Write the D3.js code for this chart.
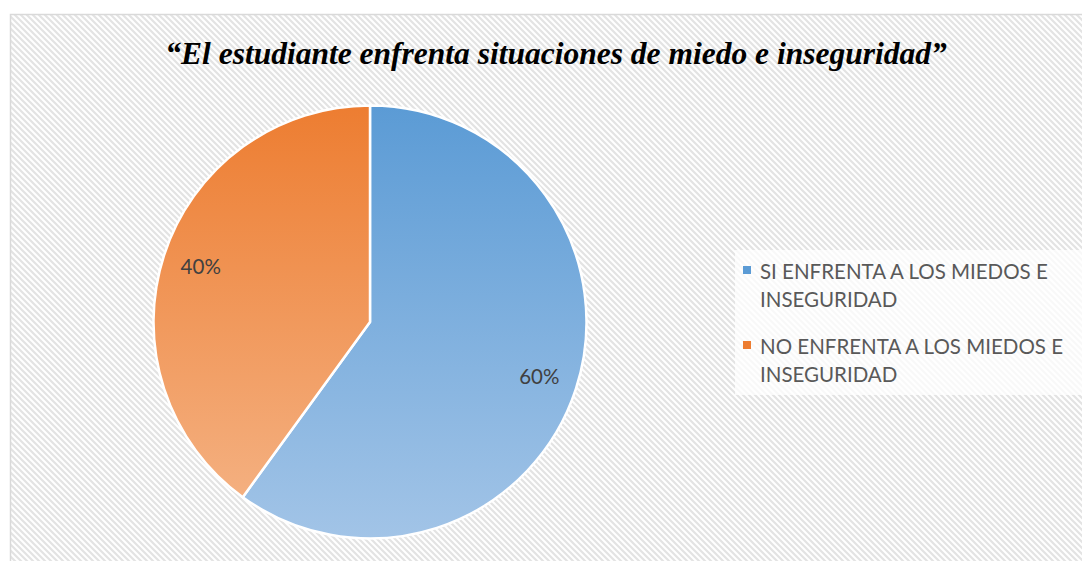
<!DOCTYPE html>
<html>
<head>
<meta charset="utf-8">
<script src="https://cdn.jsdelivr.net/npm/d3@7"></script>
<style>
  html, body { margin: 0; padding: 0; background: #ffffff; }
  svg { display: block; }
</style>
</head>
<body>
<svg id="chart" width="1082" height="561"></svg>
<script>
const title = "“El estudiante enfrenta situaciones de miedo e inseguridad”";
const categories = ["SI ENFRENTA A LOS MIEDOS E INSEGURIDAD", "NO ENFRENTA A LOS MIEDOS E INSEGURIDAD"];
const legendLines = [["SI ENFRENTA A LOS MIEDOS E", "INSEGURIDAD"], ["NO ENFRENTA A LOS MIEDOS E", "INSEGURIDAD"]];
const values = [60, 40];
const labels = ["60%", "40%"];
const colorsTop = ["#5b9bd5", "#ed7d31"];
const colorsBottom = ["#a2c4e7", "#f5b588"];

const svg = d3.select("#chart");
const W = 1082, H = 561;
const defs = svg.append("defs");

// hatch pattern
const pat = defs.append("pattern")
  .attr("id", "hatch").attr("patternUnits", "userSpaceOnUse")
  .attr("width", 6).attr("height", 6);
pat.append("rect").attr("width", 6).attr("height", 6).attr("fill", "#ffffff");
pat.append("path")
  .attr("d", "M-1,-1 L7,7 M-4,2 L2,8 M4,-2 L8,2")
  .attr("stroke", "#e3e3e3").attr("stroke-width", 2.2);

// frame
svg.append("rect").attr("x", 10.5).attr("y", 14.5).attr("width", W).attr("height", H)
  .attr("fill", "url(#hatch)").attr("stroke", "#d9d9d9").attr("stroke-width", 1.5);

// title
svg.append("text").attr("x", 556).attr("y", 64).attr("text-anchor", "middle")
  .attr("font-family", "'Liberation Serif', 'Times New Roman', serif")
  .attr("font-style", "italic").attr("font-weight", "bold")
  .attr("font-size", 31.5).attr("fill", "#000").text(title);

// pie
const cx = 370, cy = 322, R = 216.5;
values.forEach((v, i) => {
  const g = defs.append("linearGradient").attr("id", "grad" + i)
    .attr("gradientUnits", "userSpaceOnUse")
    .attr("x1", 0).attr("y1", -R).attr("x2", 0).attr("y2", R);
  g.append("stop").attr("offset", "0%").attr("stop-color", colorsTop[i]);
  g.append("stop").attr("offset", "100%").attr("stop-color", colorsBottom[i]);
});

const pie = d3.pie().sort(null).value(d => d);
const arcs = pie(values);
const arc = d3.arc().innerRadius(0).outerRadius(R);
const labelArc = d3.arc().innerRadius(178).outerRadius(178);

const pg = svg.append("g").attr("transform", `translate(${cx},${cy})`);
pg.selectAll("path").data(arcs).enter().append("path")
  .attr("d", arc)
  .attr("fill", (d, i) => `url(#grad${i})`)
  .attr("stroke", "#ffffff").attr("stroke-width", 2.5).attr("stroke-linejoin", "round");

pg.selectAll("text").data(arcs).enter().append("text")
  .attr("transform", d => { const c = labelArc.centroid(d); return `translate(${c[0]},${c[1] + 7})`; })
  .attr("text-anchor", "middle")
  .attr("font-family", "Lato, 'Open Sans', sans-serif")
  .attr("font-size", 20.5).attr("fill", "#404040")
  .text((d, i) => labels[i]);

// legend
svg.append("rect").attr("x", 735).attr("y", 250).attr("width", 347).attr("height", 145)
  .attr("fill", "#ffffff").attr("opacity", 0.75);
const lg = svg.append("g");
legendLines.forEach((lines, i) => {
  const y0 = 266 + i * 75;
  lg.append("rect").attr("x", 743).attr("y", y0).attr("width", 8).attr("height", 8)
    .attr("fill", colorsTop[i]);
  lines.forEach((t, j) => {
    lg.append("text").attr("x", 760).attr("y", y0 + 13 + j * 28)
      .attr("font-family", "Lato, 'Open Sans', sans-serif")
      .attr("font-size", 20.5).attr("fill", "#595959").text(t);
  });
});
</script>
</body>
</html>
